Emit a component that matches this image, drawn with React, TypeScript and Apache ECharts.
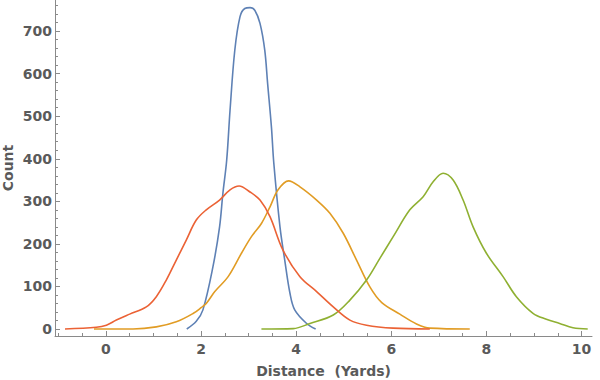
import React, { useEffect, useRef } from "react";
import * as echarts from "echarts";

const seriesNames = ["Series 1", "Series 2", "Series 3", "Series 4"];
const seriesColors = ["#5E81B5", "#E19C24", "#8FB032", "#EB6235"];

const blueData: number[][] = [
  [1.7, 0], [1.9, 18], [2.04, 45], [2.25, 146], [2.39, 240], [2.46, 319], [2.54, 397],
  [2.61, 514], [2.71, 655], [2.82, 734], [2.92, 753], [3.03, 755], [3.13, 749],
  [3.24, 718], [3.34, 655], [3.4, 577], [3.48, 475], [3.53, 390], [3.66, 240],
  [3.76, 162], [3.87, 84], [3.97, 45], [4.22, 13], [4.41, 0],
];
const orangeData: number[][] = [
  [-0.25, 0], [0.57, 0], [1.06, 5], [1.48, 17], [1.84, 37], [2.0, 50], [2.11, 60],
  [2.29, 88], [2.57, 123], [2.85, 178], [3.06, 217], [3.27, 248], [3.45, 287],
  [3.62, 327], [3.84, 348], [4.08, 334], [4.43, 303], [4.71, 272], [4.99, 225],
  [5.27, 162], [5.55, 99], [5.8, 62], [6.18, 35], [6.53, 12], [6.81, 2], [7.65, 0],
];
const greenData: number[][] = [
  [3.27, 0], [3.94, 1], [4.29, 13], [4.78, 33], [5.13, 68], [5.48, 115], [5.76, 166],
  [6.04, 217], [6.39, 280], [6.67, 311], [6.88, 346], [7.09, 366], [7.3, 350],
  [7.51, 303], [7.72, 240], [8.0, 178], [8.35, 123], [8.63, 76], [8.98, 37],
  [9.26, 23], [9.54, 13], [9.82, 3], [10.13, 0],
];
const redData: number[][] = [
  [-0.86, 0], [-0.2, 4], [0.01, 9], [0.22, 21], [0.5, 35], [0.85, 52], [1.06, 76],
  [1.27, 115], [1.48, 162], [1.69, 209], [1.9, 256], [2.11, 280], [2.39, 303],
  [2.61, 327], [2.8, 336], [3.03, 322], [3.24, 303], [3.45, 264], [3.72, 186],
  [4.08, 123], [4.43, 88], [4.78, 52], [5.13, 21], [5.48, 9], [6.04, 2], [6.81, 0],
];

const xMajorTicks = [0, 2, 4, 6, 8, 10];
const xMinorTicks = [-1, -0.5, 0.5, 1, 1.5, 2.5, 3, 3.5, 4.5, 5, 5.5, 6.5, 7, 7.5, 8.5, 9, 9.5];
const yMajorTicks = [0, 100, 200, 300, 400, 500, 600, 700];
const yMinorTicks = [
  20, 40, 60, 80, 120, 140, 160, 180, 220, 240, 260, 280, 320, 340, 360, 380,
  420, 440, 460, 480, 520, 540, 560, 580, 620, 640, 660, 680, 720, 740, 760,
];

const xTitle = "Distance  (Yards)";
const yTitle = "Count";

const FONT = "DejaVu Sans";
const AXIS_COLOR = "#8a8a8a";
const LABEL_COLOR = "#5a5a5a";

export default function App() {
  const ref = useRef<HTMLDivElement>(null);
  useEffect(() => {
    if (!ref.current) return;
    const chart = echarts.init(ref.current, null, { renderer: "svg" });
    const xRange = { min: -1.07, max: 10.22 };
    const yRange = { min: -16.4, max: 773 };
    const allData = [blueData, orangeData, greenData, redData];
    chart.setOption({
      animation: false,
      grid: { left: 55, right: 8, top: 0, bottom: 44, containLabel: false, outerBoundsMode: "none" },
      xAxis: [
        {
          type: "value",
          ...xRange,
          name: xTitle,
          nameLocation: "middle",
          nameGap: 28,
          nameMoveOverlap: false,
          nameTextStyle: { fontFamily: FONT, fontWeight: "bold", fontSize: 14, lineHeight: 14, color: LABEL_COLOR },
          axisLine: { show: true, onZero: false, lineStyle: { color: AXIS_COLOR, width: 1 } },
          axisTick: { show: true, inside: true, length: 5, customValues: xMajorTicks, lineStyle: { color: AXIS_COLOR } },
          axisLabel: {
            customValues: xMajorTicks,
            fontFamily: FONT, fontWeight: "bold", fontSize: 14, color: LABEL_COLOR, margin: 6,
          },
          splitLine: { show: false },
        },
        {
          type: "value",
          ...xRange,
          position: "bottom",
          axisLine: { show: false, onZero: false },
          axisTick: { show: true, inside: true, length: 3, customValues: xMinorTicks, lineStyle: { color: AXIS_COLOR } },
          axisLabel: { show: false },
          splitLine: { show: false },
        },
      ],
      yAxis: [
        {
          type: "value",
          ...yRange,
          name: yTitle,
          nameLocation: "middle",
          nameGap: 40,
          nameMoveOverlap: false,
          nameRotate: 90,
          nameTextStyle: { fontFamily: FONT, fontWeight: "bold", fontSize: 14, lineHeight: 14, color: LABEL_COLOR },
          axisLine: { show: true, onZero: false, lineStyle: { color: AXIS_COLOR, width: 1 } },
          axisTick: { show: true, inside: true, length: 5, customValues: yMajorTicks, lineStyle: { color: AXIS_COLOR } },
          axisLabel: {
            customValues: yMajorTicks,
            fontFamily: FONT, fontWeight: "bold", fontSize: 14, color: LABEL_COLOR, margin: 3,
          },
          splitLine: { show: false },
        },
        {
          type: "value",
          ...yRange,
          position: "left",
          axisLine: { show: false, onZero: false },
          axisTick: { show: true, inside: true, length: 3, customValues: yMinorTicks, lineStyle: { color: AXIS_COLOR } },
          axisLabel: { show: false },
          splitLine: { show: false },
        },
      ],
      series: allData.map((d, i) => ({
        name: seriesNames[i],
        type: "line",
        xAxisIndex: 0,
        yAxisIndex: 0,
        data: d,
        smooth: 0.35,
        showSymbol: false,
        symbol: "none",
        lineStyle: { color: seriesColors[i], width: 1.6 },
        itemStyle: { color: seriesColors[i] },
      })),
    });
    return () => chart.dispose();
  }, []);
  return (
    <div
      ref={ref}
      style={{ position: "fixed", left: 0, top: 0, width: 600, height: 380, background: "#ffffff" }}
    />
  );
}
